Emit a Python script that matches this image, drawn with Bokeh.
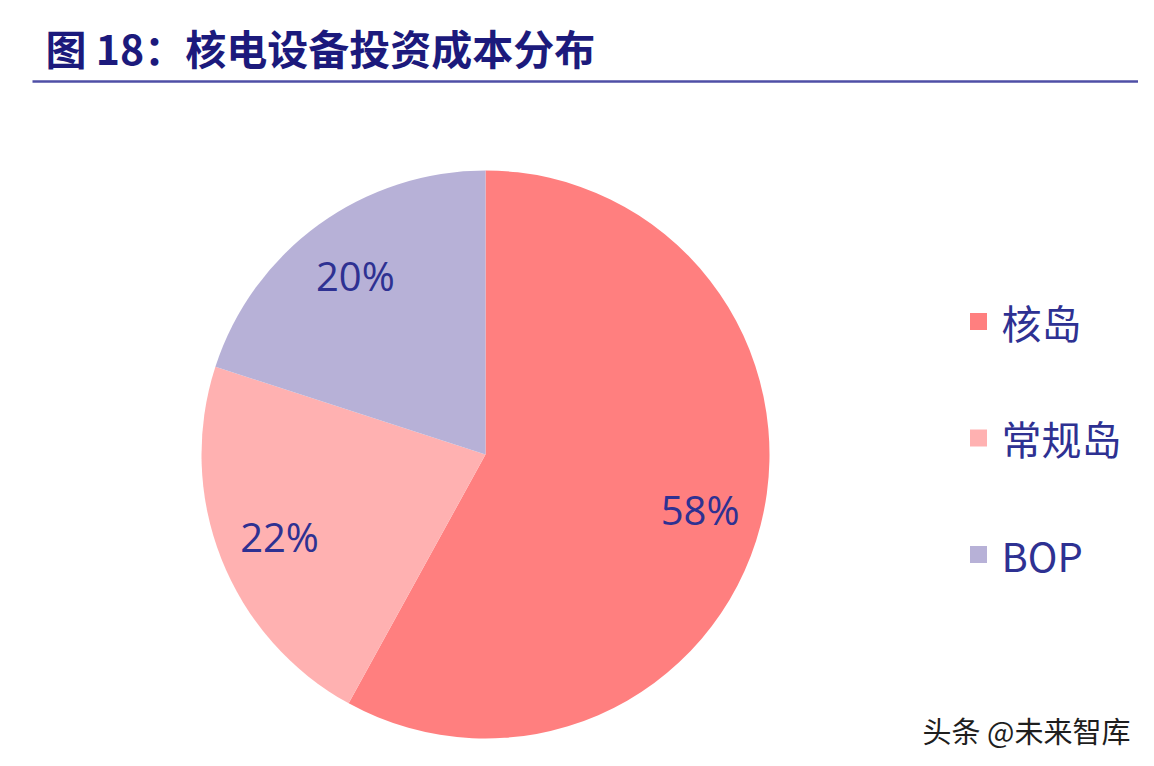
import numpy as np
from bokeh.plotting import figure
from bokeh.models import Range1d, ColumnDataSource
from bokeh.core.properties import value
from bokeh.embed import file_html
from bokeh.resources import INLINE

# ---- data ----
categories = ["核岛", "常规岛", "BOP"]
shares = [58, 22, 20]
colors = ["#FF7F7F", "#FFB1B1", "#B7B1D7"]
title_text = "图 18：核电设备投资成本分布"
watermark_text = "头条 @未来智库"

TEXT_BLUE = "#2E3192"
TITLE_BLUE = "#1C1A7C"

W, H = 1138, 750
p = figure(width=W, height=H, x_range=Range1d(0, W), y_range=Range1d(0, H),
           output_backend="svg", toolbar_location=None,
           x_axis_type=None, y_axis_type=None,
           min_border=0, min_border_left=0, min_border_right=0,
           min_border_top=0, min_border_bottom=0)
p.grid.visible = False
p.outline_line_color = None
p.background_fill_color = "white"
p.border_fill_color = "white"

def sy(y):
    return H - y

# ---- pie ----
cx, cy, r = 485, sy(454), 284
frac = np.array(shares, dtype=float) / sum(shares)
cum = np.concatenate([[0.0], np.cumsum(frac)])
start = np.pi / 2 - 2 * np.pi * cum[:-1]
end = np.pi / 2 - 2 * np.pi * cum[1:]
mid = (start + end) / 2
lr = 0.78 * r
src = ColumnDataSource(dict(
    start=start, end=end, color=colors, cat=categories,
    lx=cx + lr * np.cos(mid), ly=cy + lr * np.sin(mid),
    lab=[f"{s}%" for s in shares],
))
p.wedge(x=cx, y=cy, radius=r, start_angle="start", end_angle="end",
        direction="clock", fill_color="color", line_color=None, source=src)
p.text(x="lx", y="ly", text="lab", source=src, text_align="center",
       text_baseline="middle", text_font=value("Open Sans"),
       text_font_size="40px", text_color=TEXT_BLUE)

# ---- legend ----
n = len(categories)
ly0, dly = sy(321), 116.5
leg = ColumnDataSource(dict(
    x=[978] * n, tx=[1001] * n,
    y=[ly0 - i * dly for i in range(n)],
    color=colors, cat=categories,
))
p.scatter(x="x", y="y", marker="square", size=17, fill_color="color",
          line_color=None, source=leg)
p.text(x="tx", y="y", text="cat", source=leg, text_align="left",
       text_baseline="middle", text_font=value("Noto Sans CJK SC"),
       text_font_size="40px", text_color=TEXT_BLUE)

# ---- title & rule ----
p.text(x=[45], y=[sy(46)], text=[title_text], text_align="left",
       text_baseline="middle", text_font=value("Noto Sans CJK SC"),
       text_font_style="bold", text_font_size="41px", text_color=TITLE_BLUE)
p.segment(x0=[32], y0=[sy(81)], x1=[W], y1=[sy(81)],
          line_color="#4F4FA6", line_width=2.5)

# ---- watermark ----
p.text(x=[922], y=[sy(729)], text=[watermark_text], text_align="left",
       text_baseline="middle", text_font=value("Noto Sans CJK SC"),
       text_font_size="29px", text_color="#1E1E1E")

open("out.html", "w").write(file_html(p, INLINE))
